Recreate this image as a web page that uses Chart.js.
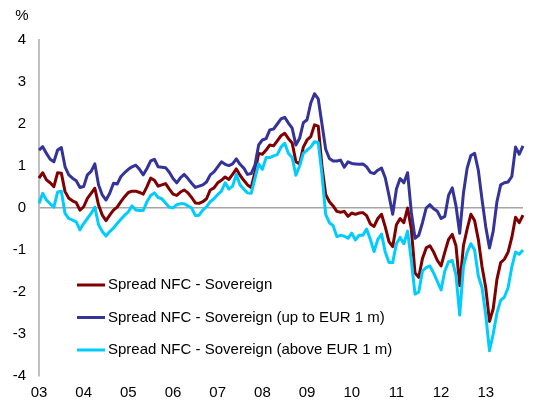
<!DOCTYPE html>
<html>
<head>
<meta charset="utf-8">
<script src="https://cdn.jsdelivr.net/npm/chart.js@4"></script>
<style>
  body { margin: 0; background: #fff; }
  #wrap { width: 556px; height: 405px; }
</style>
</head>
<body>
<div id="wrap"><canvas id="chart"></canvas></div>
<script>
const yearLabels = ['03', '04', '05', '06', '07', '08', '09', '10', '11', '12', '13'];
const seriesNames = [
  'Spread NFC - Sovereign',
  'Spread NFC - Sovereign (up to EUR 1 m)',
  'Spread NFC - Sovereign (above EUR 1 m)'
];

// monthly, Jan 2003 onwards
const spreadAll = [
  0.71, 0.84, 0.67, 0.60, 0.51, 0.84, 0.83, 0.39, 0.23, 0.17,
  0.13, -0.05, 0.03, 0.23, 0.35, 0.47, 0.07, -0.17, -0.30, -0.17,
  -0.05, 0.02, 0.15, 0.27, 0.37, 0.40, 0.40, 0.37, 0.33, 0.51,
  0.71, 0.66, 0.52, 0.55, 0.58, 0.45, 0.33, 0.30, 0.38, 0.43,
  0.36, 0.25, 0.12, 0.11, 0.15, 0.22, 0.43, 0.48, 0.60, 0.66,
  0.74, 0.68, 0.80, 0.93, 0.78, 0.66, 0.55, 0.49, 0.85, 1.30,
  1.28, 1.38, 1.50, 1.48, 1.60, 1.72, 1.78, 1.65, 1.55, 1.10,
  1.05, 1.45, 1.62, 1.70, 1.98, 1.95, 1.00, 0.32, 0.15, 0.05,
  -0.08, -0.10, -0.08, -0.20, -0.12, -0.15, -0.12, -0.11, -0.18, -0.38,
  -0.44, -0.25, -0.15, -0.45, -0.80, -0.92, -0.40, -0.25, -0.35, 0.00,
  -0.50, -1.55, -1.65, -1.20, -0.95, -0.90, -1.05, -1.25, -1.38, -1.05,
  -0.75, -0.63, -0.90, -1.85, -0.90, -0.50, -0.15, -0.30, -0.75, -1.40,
  -1.90, -2.70, -2.40, -1.70, -1.30, -1.22, -1.05, -0.70, -0.22, -0.35,
  -0.17
];
const spreadSmall = [
  1.38, 1.46, 1.30, 1.16, 1.10, 1.38, 1.44, 0.98, 0.79, 0.71,
  0.65, 0.49, 0.51, 0.79, 0.87, 1.05, 0.55, 0.31, 0.19, 0.35,
  0.59, 0.57, 0.75, 0.84, 0.92, 0.98, 1.02, 0.92, 0.79, 0.94,
  1.12, 1.16, 0.98, 0.97, 0.96, 0.85, 0.70, 0.60, 0.72, 0.80,
  0.70, 0.59, 0.49, 0.52, 0.55, 0.62, 0.79, 0.86, 0.98, 1.10,
  1.04, 1.01, 1.05, 1.17, 1.04, 0.95, 0.80, 0.82, 1.02, 1.50,
  1.62, 1.65, 1.86, 1.88, 2.00, 2.12, 2.16, 2.02, 1.90, 1.50,
  1.66, 2.03, 2.10, 2.50, 2.72, 2.60, 2.00, 1.40, 1.18, 1.12,
  1.12, 1.14, 0.97, 1.10, 1.06, 1.05, 1.04, 1.05, 0.98, 0.85,
  0.82, 0.90, 0.95, 0.72, 0.30, -0.15, 0.45, 0.70, 0.60, 0.84,
  -0.10, -0.72, -0.65, -0.35, 0.00, 0.08, -0.02, -0.08, -0.25, -0.20,
  0.30, 0.48, 0.05, -0.60, 0.35, 0.95, 1.25, 1.30, 0.90, 0.20,
  -0.45, -0.95, -0.55, 0.15, 0.55, 0.60, 0.62, 0.75, 1.45, 1.28,
  1.48
];
const spreadLarge = [
  0.11, 0.35, 0.19, 0.10, 0.02, 0.38, 0.40, -0.13, -0.25, -0.29,
  -0.33, -0.52, -0.37, -0.25, -0.13, 0.02, -0.40, -0.56, -0.67, -0.56,
  -0.48, -0.37, -0.27, -0.17, -0.09, 0.05, -0.05, -0.06, -0.06, 0.15,
  0.30, 0.36, 0.25, 0.22, 0.12, 0.02, 0.00, 0.08, 0.10, 0.10,
  0.05, 0.00, -0.18, -0.17, -0.05, 0.03, 0.15, 0.22, 0.32, 0.40,
  0.60, 0.45, 0.52, 0.80, 0.55, 0.45, 0.36, 0.35, 0.70, 1.05,
  0.92, 1.20, 1.20, 1.24, 1.27, 1.45, 1.54, 1.30, 1.20, 0.78,
  1.00, 1.30, 1.38, 1.45, 1.58, 1.56, 0.80, -0.15, -0.35, -0.42,
  -0.68, -0.65, -0.67, -0.72, -0.60, -0.76, -0.65, -0.65, -0.50, -0.75,
  -1.04, -0.75, -0.62, -1.05, -1.30, -1.30, -0.85, -0.70, -0.85, -0.55,
  -1.25, -2.05, -2.00, -1.50, -1.42, -1.38, -1.55, -1.75, -1.95, -1.50,
  -1.28, -1.25, -1.60, -2.55, -1.40, -1.05, -0.85, -1.00, -1.62, -1.90,
  -2.55, -3.40, -3.00, -2.50, -2.20, -2.12, -1.90, -1.40, -1.05, -1.10,
  -1.00
];

// one label per January, blanks for the other months
const monthLabels = spreadAll.map((v, i) => i % 12 === 0 ? yearLabels[i / 12] : '');

const FONT = '"Liberation Sans", Arial, sans-serif';
Chart.defaults.font.family = FONT;
Chart.defaults.font.size = 15;
Chart.defaults.color = '#000';

// "%" unit label and the legend sitting inside the plot
const extras = {
  id: 'extras',
  afterDraw(chart) {
    const ctx = chart.ctx;
    ctx.save();
    ctx.font = '15px ' + FONT;
    ctx.fillStyle = '#000';
    ctx.textBaseline = 'middle';
    ctx.textAlign = 'center';
    ctx.fillText('%', 22, 16);
    ctx.textAlign = 'left';
    chart.data.datasets.forEach((ds, i) => {
      const y = 285 + i * 32.5;
      ctx.strokeStyle = ds.borderColor;
      ctx.lineWidth = 3;
      ctx.beginPath();
      ctx.moveTo(77, y);
      ctx.lineTo(105, y);
      ctx.stroke();
      ctx.fillText(ds.label, 108, y);
    });
    ctx.restore();
  }
};

new Chart(document.getElementById('chart'), {
  type: 'line',
  data: {
    labels: monthLabels,
    datasets: [
      { label: seriesNames[0], data: spreadAll, borderColor: '#800000', order: 2 },
      { label: seriesNames[1], data: spreadSmall, borderColor: '#333399', order: 1 },
      { label: seriesNames[2], data: spreadLarge, borderColor: '#00ccff', order: 0 }
    ]
  },
  options: {
    responsive: true,
    maintainAspectRatio: false,
    animation: false,
    layout: { padding: { left: 12, right: 33, top: 40, bottom: 0 } },
    elements: {
      point: { radius: 0 },
      line: { borderWidth: 3, tension: 0, borderJoinStyle: 'round', fill: false }
    },
    plugins: {
      legend: { display: false },
      tooltip: { enabled: false }
    },
    scales: {
      x: {
        grid: { display: false, drawTicks: false },
        border: { display: false },
        ticks: { autoSkip: false, maxRotation: 0, minRotation: 0, padding: 8 },
        afterFit: (s) => { s.height = 29; }
      },
      y: {
        min: -4,
        max: 4,
        ticks: { stepSize: 1, padding: 13 },
        grid: {
          drawTicks: false,
          lineWidth: 1.5,
          color: (c) => (c.tick && c.tick.value === 0) ? '#a6a6a6' : 'rgba(0,0,0,0)'
        },
        border: { display: true, color: '#c0c0c0', width: 2 },
        afterFit: (s) => { s.width = 27; }
      }
    }
  },
  plugins: [extras]
});
</script>
</body>
</html>
